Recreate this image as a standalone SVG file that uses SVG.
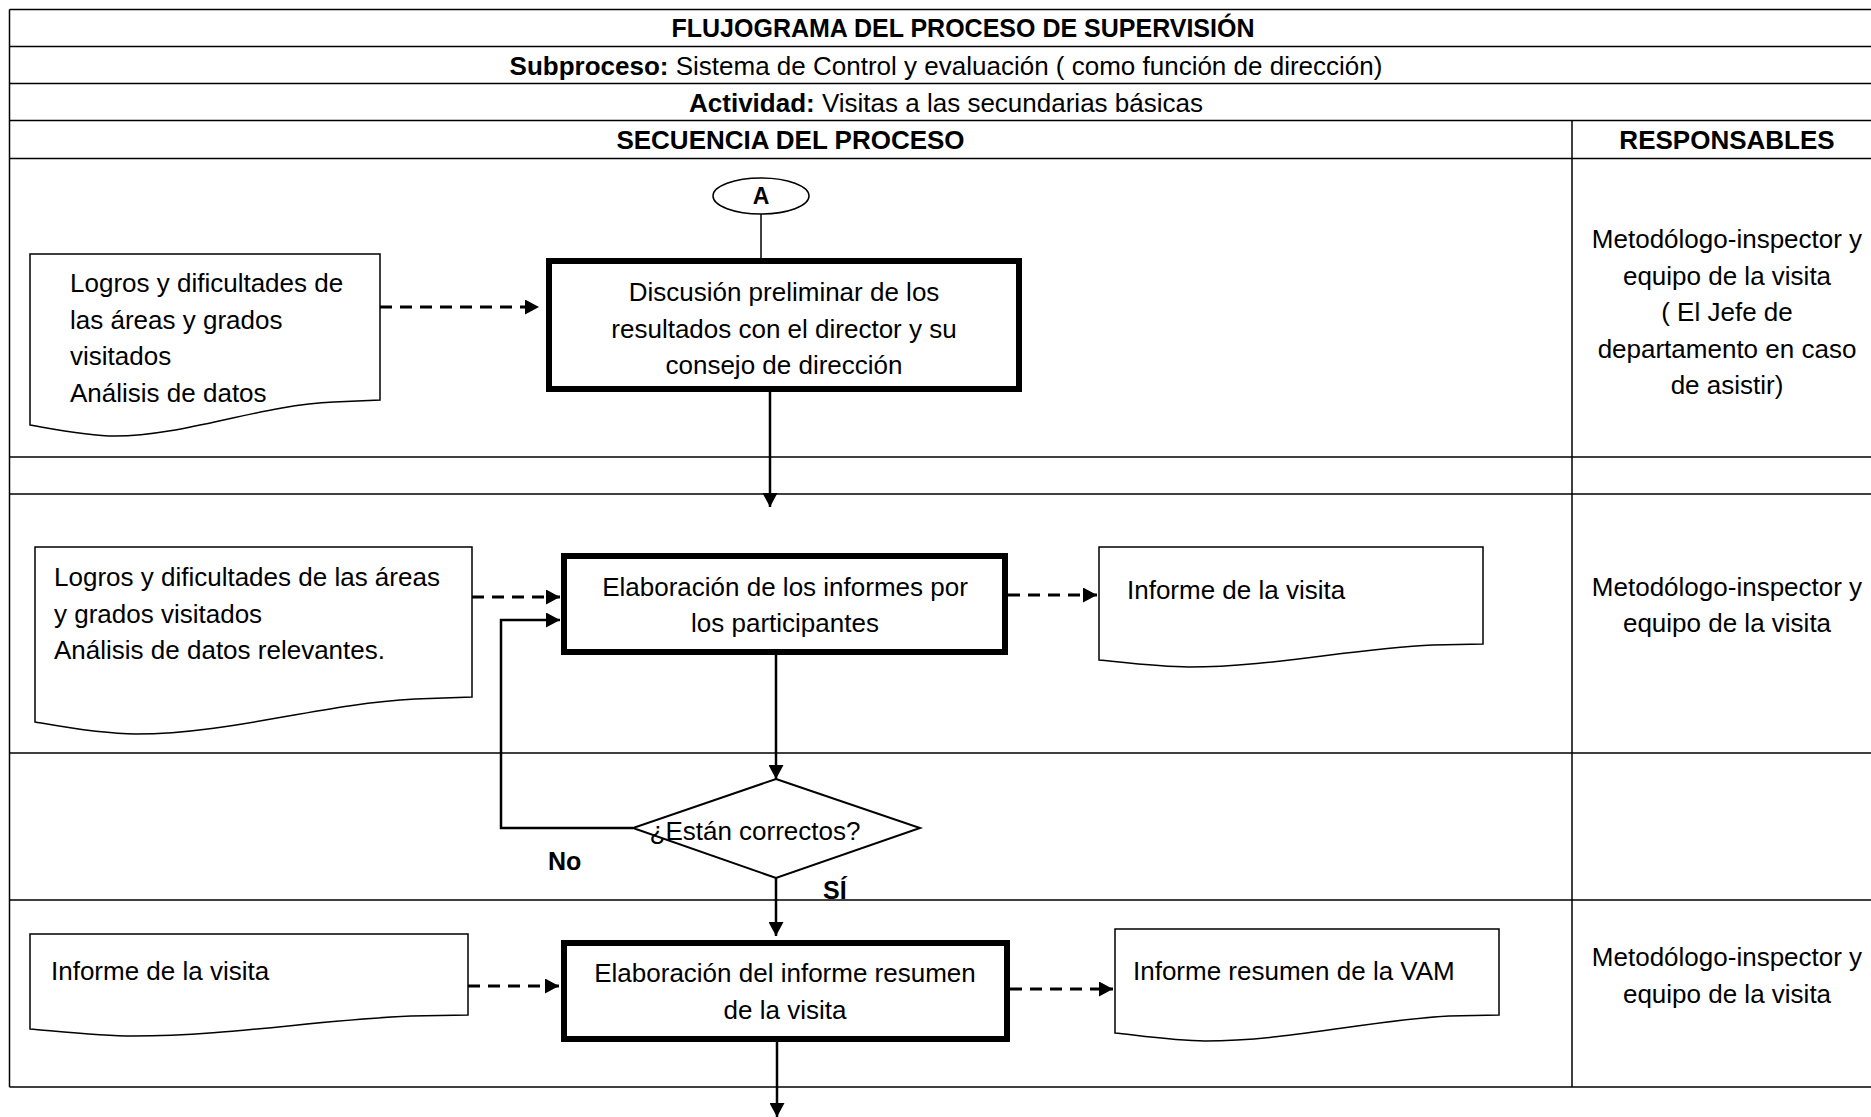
<svg xmlns="http://www.w3.org/2000/svg" width="1871" height="1117" viewBox="0 0 1871 1117">
<defs>
<marker id="ah" markerUnits="userSpaceOnUse" markerWidth="15" markerHeight="15" refX="14" refY="7.5" orient="auto">
<path d="M0,0 L14,7.5 L0,15 Z" fill="#000"/>
</marker>
</defs>
<style>
text{font-family:"Liberation Sans",Arial,sans-serif;font-size:26px;fill:#000}
.b{font-weight:bold}
.c{text-anchor:middle}
.grid line{stroke:#000;stroke-width:1.5}
.proc{fill:#fff;stroke:#000;stroke-width:6}
.doc{fill:#fff;stroke:#000;stroke-width:1.5}
.dec{fill:#fff;stroke:#000;stroke-width:2}
.solid{fill:none;stroke:#000;stroke-width:2.5}
.thin{fill:none;stroke:#000;stroke-width:1.5}
.dash{fill:none;stroke:#000;stroke-width:3;stroke-dasharray:12 8}
</style>
<rect width="1871" height="1117" fill="#fff"/>
<g id="table" class="grid">
<line x1="9.5" y1="9.5" x2="1885" y2="9.5"/>
<line x1="9.5" y1="46.5" x2="1885" y2="46.5"/>
<line x1="9.5" y1="83.5" x2="1885" y2="83.5"/>
<line x1="9.5" y1="120.5" x2="1885" y2="120.5"/>
<line x1="9.5" y1="158.5" x2="1885" y2="158.5"/>
<line x1="9.5" y1="457" x2="1885" y2="457"/>
<line x1="9.5" y1="494" x2="1885" y2="494"/>
<line x1="9.5" y1="753" x2="1885" y2="753"/>
<line x1="9.5" y1="900" x2="1885" y2="900"/>
<line x1="9.5" y1="1087" x2="1885" y2="1087"/>
<line x1="9.5" y1="9.5" x2="9.5" y2="1087"/>
<line x1="1572" y1="120.5" x2="1572" y2="1087"/>
</g>
<g id="headers">
<text class="b c" x="963" y="37" style="font-size:25px">FLUJOGRAMA DEL PROCESO DE SUPERVISIÓN</text>
<text class="c" x="946" y="75"><tspan font-weight="bold">Subproceso:</tspan> Sistema de Control y evaluación ( como función de dirección)</text>
<text class="c" x="946" y="112"><tspan font-weight="bold">Actividad:</tspan> Visitas a las secundarias básicas</text>
<text class="b c" x="790.5" y="149">SECUENCIA DEL PROCESO</text>
<text class="b c" x="1727" y="149">RESPONSABLES</text>
</g>
<g id="connectors">
<line class="thin" x1="761" y1="214" x2="761" y2="258"/>
<line class="dash" x1="380" y1="307" x2="539" y2="307" marker-end="url(#ah)"/>
<line class="solid" x1="770" y1="392" x2="770" y2="507" marker-end="url(#ah)"/>
<line class="dash" x1="472" y1="597" x2="560" y2="597" marker-end="url(#ah)"/>
<polyline class="solid" points="633,828 501,828 501,620 560,620" marker-end="url(#ah)"/>
<line class="dash" x1="1008" y1="595" x2="1097" y2="595" marker-end="url(#ah)"/>
<line class="solid" x1="776" y1="654" x2="776" y2="779" marker-end="url(#ah)"/>
<line class="solid" x1="776" y1="878" x2="776" y2="936" marker-end="url(#ah)"/>
<line class="dash" x1="468" y1="986" x2="559" y2="986" marker-end="url(#ah)"/>
<line class="dash" x1="1010" y1="989" x2="1113" y2="989" marker-end="url(#ah)"/>
<line class="solid" x1="777" y1="1042" x2="777" y2="1117" marker-end="url(#ah)"/>
<text class="b" x="548" y="870" style="font-size:25px">No</text>
<text class="b" x="823" y="899" style="font-size:25px">SÍ</text>
</g>
<g id="connectorA">
<ellipse class="thin" cx="761" cy="196" rx="48" ry="18" fill="#fff"/>
<text class="b c" x="761" y="204" style="font-size:23px">A</text>
</g>
<g id="doc1">
<path class="doc" d="M30,254 H380 V400 L334,402 C260,405 185,436 115,436 C87,436 48,428 30,425 Z"/>
<text x="70" y="292">Logros y dificultades de</text>
<text x="70" y="328.5">las áreas y grados</text>
<text x="70" y="365">visitados</text>
<text x="70" y="401.5">Análisis de datos</text>
</g>
<g id="proc1">
<rect class="proc" x="549" y="261" width="470" height="128"/>
<text class="c" x="784" y="301">Discusión preliminar de los</text>
<text class="c" x="784" y="337.5">resultados con el director y su</text>
<text class="c" x="784" y="374">consejo de dirección</text>
</g>
<g id="doc2">
<path class="doc" d="M35,547 H472 V697 L415,699 C320,704 230,734 136,734 C100,734 58,726 35,722 Z"/>
<text x="54" y="586">Logros y dificultades de las áreas</text>
<text x="54" y="622.5">y grados visitados</text>
<text x="54" y="659">Análisis de datos relevantes.</text>
</g>
<g id="proc2">
<rect class="proc" x="564" y="556" width="441" height="96"/>
<text class="c" x="785" y="595.5">Elaboración de los informes por</text>
<text class="c" x="785" y="632">los participantes</text>
</g>
<g id="doc3">
<path class="doc" d="M1099,547 H1483 V644 L1433,645 C1350,649 1270,667 1189,667 C1160,667 1120,662 1099,660 Z"/>
<text x="1127" y="599">Informe de la visita</text>
</g>
<g id="decision">
<polygon class="dec" points="776,779 920,828 776,878 633,828"/>
<text class="c" x="755" y="840">¿Están correctos?</text>
</g>
<g id="doc4">
<path class="doc" d="M30,934 H468 V1015 L411,1016 C315,1020 230,1036 133,1036 C100,1036 55,1031 30,1029 Z"/>
<text x="51" y="980">Informe de la visita</text>
</g>
<g id="proc3">
<rect class="proc" x="564" y="943" width="443" height="96"/>
<text class="c" x="785" y="982">Elaboración del informe resumen</text>
<text class="c" x="785" y="1018.5">de la visita</text>
</g>
<g id="doc5">
<path class="doc" d="M1115,929 H1499 V1015 L1449,1016 C1370,1020 1290,1041 1205,1041 C1175,1041 1135,1035 1115,1033 Z"/>
<text x="1133" y="980">Informe resumen de la VAM</text>
</g>
<g id="resp1">
<text class="c" x="1727" y="248">Metodólogo-inspector y</text>
<text class="c" x="1727" y="284.5">equipo de la visita</text>
<text class="c" x="1727" y="321">( El Jefe de</text>
<text class="c" x="1727" y="357.5">departamento en caso</text>
<text class="c" x="1727" y="394">de asistir)</text>
</g>
<g id="resp2">
<text class="c" x="1727" y="595.5">Metodólogo-inspector y</text>
<text class="c" x="1727" y="632">equipo de la visita</text>
</g>
<g id="resp3">
<text class="c" x="1727" y="966">Metodólogo-inspector y</text>
<text class="c" x="1727" y="1002.5">equipo de la visita</text>
</g>
</svg>
